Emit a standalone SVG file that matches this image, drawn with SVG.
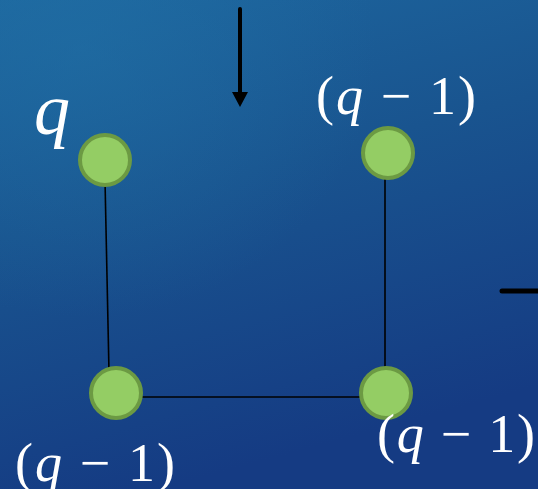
<svg xmlns="http://www.w3.org/2000/svg" width="538" height="489" viewBox="0 0 538 489">
<defs>
<linearGradient id="bg" x1="0" y1="0" x2="0.3" y2="1">
<stop offset="0" stop-color="#1d679f"/>
<stop offset="0.45" stop-color="#19548f"/>
<stop offset="1" stop-color="#153b83"/>
</linearGradient>
<radialGradient id="glow" cx="0.15" cy="0.1" r="0.55">
<stop offset="0" stop-color="#2171a6" stop-opacity="0.5"/>
<stop offset="1" stop-color="#2171a6" stop-opacity="0"/>
</radialGradient>
<style>
.node{fill:#94cd64;stroke:#6c9a43;stroke-width:4}
.edge{stroke:#000;stroke-width:1.6;fill:none}
.lbl{font-family:"Liberation Serif",serif;fill:#fff}
.it{font-style:italic}
</style>
</defs>
<rect width="538" height="489" fill="url(#bg)"/>
<rect width="538" height="489" fill="url(#glow)"/>
<g id="connectors">
<line class="edge" x1="105" y1="180" x2="109" y2="372"/>
<line class="edge" x1="385" y1="175" x2="385" y2="372"/>
<line class="edge" x1="140" y1="397" x2="362" y2="397"/>
<line x1="240" y1="9" x2="240" y2="92" stroke="#000" stroke-width="4" stroke-linecap="round"/>
<path d="M232,92 L248,92 L240,107 Z" fill="#000"/>
<line x1="502" y1="291" x2="538" y2="291" stroke="#000" stroke-width="5" stroke-linecap="round"/>
</g>
<g id="n1">
<circle class="node" cx="105" cy="160" r="25"/>
<text class="lbl it" x="34" y="134" font-size="72">q</text>
</g>
<g id="n2">
<circle class="node" cx="388" cy="153" r="25"/>
<text class="lbl" x="316" y="114" font-size="54" textLength="160" lengthAdjust="spacing">(<tspan class="it">q</tspan> − 1)</text>
</g>
<g id="n3">
<circle class="node" cx="116" cy="393" r="25"/>
<text class="lbl" x="15" y="481" font-size="54" textLength="160" lengthAdjust="spacing">(<tspan class="it">q</tspan> − 1)</text>
</g>
<g id="n4">
<circle class="node" cx="386" cy="393" r="25"/>
<text class="lbl" x="377" y="452" font-size="54" textLength="158" lengthAdjust="spacing">(<tspan class="it">q</tspan> − 1)</text>
</g>
</svg>
